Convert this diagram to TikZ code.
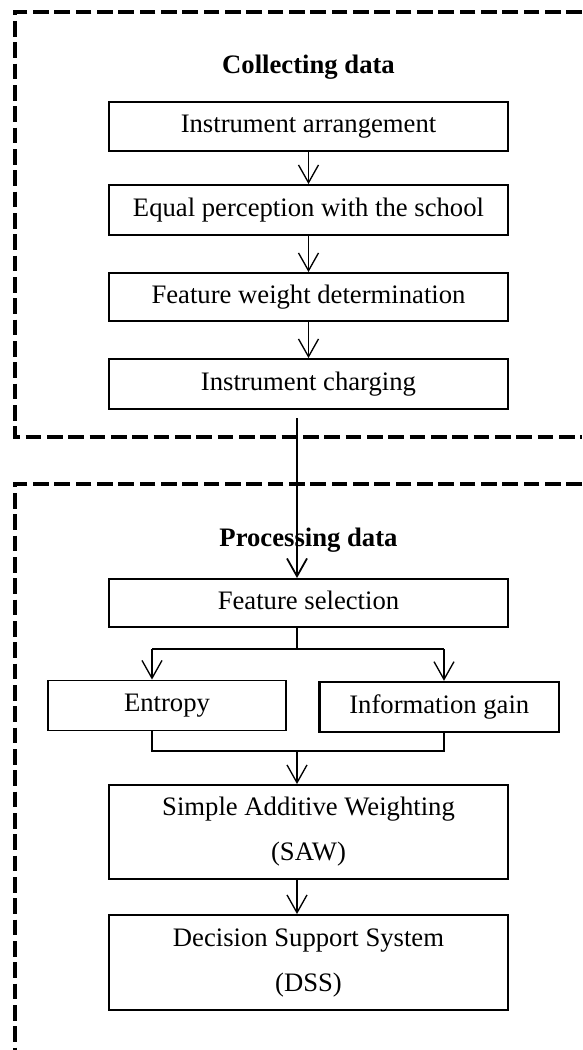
\documentclass[tikz,border=0pt]{standalone}
\usepackage{fontspec}
\setmainfont{Liberation Serif}
\usetikzlibrary{arrows.meta}
\tikzset{
  box/.style={draw, line width=0.85pt, inner sep=0pt, minimum width=179.5pt,
    font=\fontsize{12}{20.25}\selectfont, align=center},
  one/.style={text height=8.4pt, text depth=2.6pt},
  title/.style={font=\fontsize{12}{14}\selectfont\bfseries, inner sep=0pt},
  frame/.style={line width=1.8pt, dash pattern=on 7pt off 2.6pt},
  arr/.style={line width=0.6pt, -{Straight Barb[length=8pt,width=9pt,line width=0.6pt]}},
  thickarr/.style={line width=0.9pt, -{Straight Barb[length=8pt,width=9pt,line width=0.8pt]}},
  link/.style={line width=0.6pt}
}
\begin{document}
\begin{tikzpicture}[x=0.45pt,y=-0.45pt]
\useasboundingbox (0,0) rectangle (582,1050);
% frames
\draw[frame] (582,12) -- (15,12) -- (15,437) -- (582,437);
\draw[frame] (582,484) -- (15,484) -- (15,1050);
% titles
\node[title] (t1) at (308.5,67) {Collecting data};
\node[title] (t2) at (308.5,540) {Processing data};
% top boxes
\node[box, one, minimum height=22pt] (b1) at (308.5,126.5) {Instrument arrangement};
\node[box, one, minimum height=22.5pt] (b2) at (308.5,210) {Equal perception with the school};
\node[box, one, minimum height=21.6pt] (b3) at (308.5,297) {Feature weight determination};
\node[box, one, minimum height=22.5pt] (b4) at (308.5,384) {Instrument charging};
\draw[arr] (b1) -- (b2);
\draw[arr] (b2) -- (b3);
\draw[arr] (b3) -- (b4);
% lower boxes
\node[box, one, minimum height=21.6pt] (fs) at (308.5,603) {Feature selection};
\node[box, one, minimum width=107.1pt, minimum height=22.5pt] (ent) at (167,705.5) {Entropy};
\node[box, one, line width=1.1pt, minimum width=107.8pt, minimum height=22.5pt] (ig) at (439.3,707) {Information gain};
\node[box, minimum height=42.3pt] (saw) at (308.5,832) {Simple Additive Weighting\\(SAW)};
\node[box, minimum height=42.75pt] (dss) at (308.5,962.5) {Decision Support System\\(DSS)};
% connectors
\coordinate (s) at (297,418);
\coordinate (bl) at (152,649);
\coordinate (br) at (444,649);
\coordinate (ml) at (152,751);
\coordinate (mr) at (444,751);
\draw[thickarr] (s) -- (s |- fs.north);
\draw[link] (fs.south -| s) -- (s |- bl);
\draw[link] (bl) -- (br);
\draw[arr] (bl) -- (bl |- ent.north);
\draw[arr] (br) -- (br |- ig.north);
\draw[link] (ent.south -| ml) -- (ml) -- (mr) -- (ig.south -| mr);
\draw[arr] (s |- ml) -- (s |- saw.north);
\draw[arr] (saw.south -| s) -- (s |- dss.north);
\end{tikzpicture}
\end{document}
